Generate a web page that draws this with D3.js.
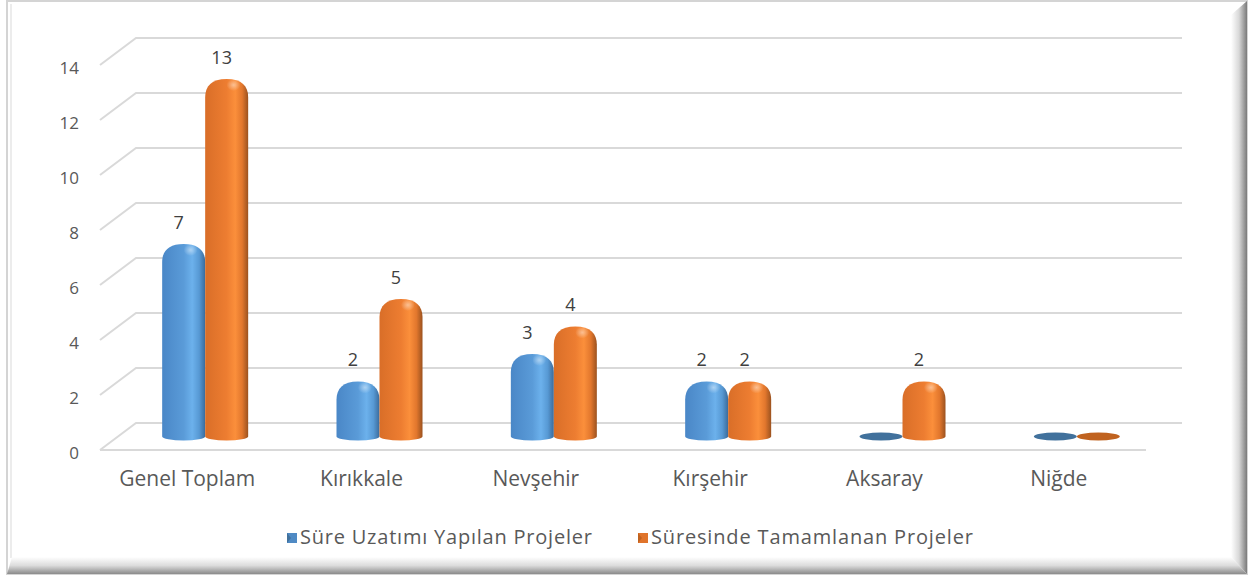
<!DOCTYPE html>
<html>
<head>
<meta charset="utf-8">
<script src="https://cdn.jsdelivr.net/npm/d3@7"></script>
<style>
  html, body { margin: 0; padding: 0; background: #fff; }
  svg { display: block; font-family: "Open Sans", sans-serif; }
</style>
</head>
<body>
<div id="chart"></div>
<script>
var categories = ['Genel Toplam', 'Kırıkkale', 'Nevşehir', 'Kırşehir', 'Aksaray', 'Niğde'];
var seriesNames = ['Süre Uzatımı Yapılan Projeler', 'Süresinde Tamamlanan Projeler'];
var extended = [7, 2, 3, 2, 0, 0];
var onTime = [13, 5, 4, 2, 2, 0];
var yTicks = [0, 2, 4, 6, 8, 10, 12, 14];

var w = 1249, h = 575;
var depthX = 36, depthY = 27;

var svg = d3.select('#chart').append('svg')
  .attr('width', w)
  .attr('height', h);

var defs = svg.append('defs');

// frame gradients
var gr = defs.append('linearGradient').attr('id', 'bevelR')
  .attr('x1', 0).attr('x2', 1).attr('y1', 0).attr('y2', 0);
gr.append('stop').attr('offset', 0).attr('stop-color', '#ffffff');
gr.append('stop').attr('offset', 0.5).attr('stop-color', '#d8d8d8');
gr.append('stop').attr('offset', 1).attr('stop-color', '#7a7a7a');
var gb = defs.append('linearGradient').attr('id', 'bevelB')
  .attr('x1', 0).attr('x2', 0).attr('y1', 0).attr('y2', 1);
gb.append('stop').attr('offset', 0).attr('stop-color', '#ffffff');
gb.append('stop').attr('offset', 0.5).attr('stop-color', '#dcdcdc');
gb.append('stop').attr('offset', 1).attr('stop-color', '#8a8a8a');

var palettes = [
  { id: 'gBlue', stops: [['0', '#4a87c7'], ['0.5', '#5a9bd8'], ['0.7', '#6cb1ec'], ['0.86', '#5799d4'], ['1', '#3b6b9b']], flat: '#41719c', leg: '#4f8ac4' },
  { id: 'gOrange', stops: [['0', '#d96e28'], ['0.5', '#ed7d31'], ['0.7', '#fb8f3b'], ['0.86', '#e2772d'], ['1', '#9b521f']], flat: '#c0621f', leg: '#e0742b' }
];
palettes.forEach(function(p) {
  var g = defs.append('linearGradient').attr('id', p.id)
    .attr('x1', 0).attr('x2', 1).attr('y1', 0).attr('y2', 0);
  p.stops.forEach(function(s) {
    g.append('stop').attr('offset', s[0]).attr('stop-color', s[1]);
  });
  var rg = defs.append('radialGradient').attr('id', p.id + 'Hi')
    .attr('cx', 0.5).attr('cy', 0.5).attr('r', 0.5);
  rg.append('stop').attr('offset', 0).attr('stop-color', '#ffffff').attr('stop-opacity', 0.45);
  rg.append('stop').attr('offset', 1).attr('stop-color', '#ffffff').attr('stop-opacity', 0);
});

// frame
svg.append('rect').attr('x', 7).attr('y', 1).attr('width', 1240).attr('height', 573)
  .attr('fill', '#fff').attr('stroke', '#d4d4d4').attr('stroke-width', 2);
svg.append('line').attr('x1', 11).attr('x2', 11).attr('y1', 4).attr('y2', 558)
  .attr('stroke', '#ececec').attr('stroke-width', 2);
svg.append('polygon').attr('points', '1231,15 1247,1 1247,574 1231,557').attr('fill', 'url(#bevelR)');
svg.append('polygon').attr('points', '12,557 1231,557 1247,574 7,574').attr('fill', 'url(#bevelB)');

// scales (back wall)
var y = d3.scaleLinear().domain([0, 14]).range([423, 38]);
var xFront = d3.scaleBand().domain(categories).range([100, 1146]);
var barW = 43;
var xSeries = d3.scaleBand().domain([0, 1]).range([-barW, barW]).padding(0);

// gridlines
var grid = svg.append('g').attr('stroke', '#d9d9d9').attr('stroke-width', 2).attr('fill', 'none');
yTicks.forEach(function(t) {
  grid.append('path')
    .attr('d', 'M' + (136 - depthX) + ',' + (y(t) + depthY) + 'L136,' + y(t) + 'L1182,' + y(t));
});
grid.append('line').attr('x1', 100).attr('x2', 1146)
  .attr('y1', y(0) + depthY).attr('y2', y(0) + depthY);

// y labels
svg.append('g').selectAll('text').data(yTicks).join('text')
  .attr('x', 79)
  .attr('y', function(d) { return y(d) + depthY + 4; })
  .attr('text-anchor', 'end')
  .attr('dominant-baseline', 'middle')
  .attr('font-size', 17)
  .attr('fill', '#595959')
  .text(function(d) { return d; });

// category labels
svg.append('g').selectAll('text').data(categories).join('text')
  .attr('x', function(d) { return xFront(d) + xFront.bandwidth() / 2; })
  .attr('y', 480)
  .attr('text-anchor', 'middle')
  .attr('dominant-baseline', 'middle')
  .attr('font-size', 21)
  .attr('fill', '#595959')
  .text(function(d) { return d; });

// bars: mid depth
var midY = depthY / 2;
function yb(v) { return y(v) + midY; }

function cylinder(x0, w, top, base) {
  var x1 = x0 + w, r = Math.min(18, (base - top) * 0.5), e = 4;
  return 'M' + x0 + ',' + base +
    'L' + x0 + ',' + (top + r) +
    'C' + x0 + ',' + (top + r * 0.4) + ' ' + (x0 + w * 0.15) + ',' + top + ' ' + (x0 + w * 0.5) + ',' + top +
    'C' + (x1 - w * 0.15) + ',' + top + ' ' + x1 + ',' + (top + r * 0.4) + ' ' + x1 + ',' + (top + r) +
    'L' + x1 + ',' + base +
    'A' + (w / 2) + ',' + e + ' 0 0 1 ' + x0 + ',' + base + 'Z';
}

var seriesData = [extended, onTime];
var bars = svg.append('g');
categories.forEach(function(c, ci) {
  var cx = xFront(c) + xFront.bandwidth() / 2 + depthX / 2;
  seriesData.forEach(function(vals, si) {
    var v = vals[ci];
    var x0 = cx + xSeries(si);
    var p = palettes[si];
    var base = yb(0);
    if (v === 0) {
      bars.append('ellipse')
        .attr('cx', x0 + barW / 2).attr('cy', base)
        .attr('rx', barW / 2).attr('ry', 4)
        .attr('fill', p.flat);
      return;
    }
    var top = yb(v);
    bars.append('path')
      .attr('d', cylinder(x0, barW, top, base))
      .attr('fill', 'url(#' + p.id + ')');
    bars.append('ellipse')
      .attr('cx', x0 + barW * 0.66).attr('cy', top + 6)
      .attr('rx', 7).attr('ry', 6)
      .attr('fill', 'url(#' + p.id + 'Hi)');
    svg.append('text')
      .attr('x', x0 + barW / 2 - 5)
      .attr('y', top - 20)
      .attr('text-anchor', 'middle')
      .attr('dominant-baseline', 'middle')
      .attr('font-size', 18)
      .attr('fill', '#404040')
      .text(v);
  });
});

// legend
var legX = [287, 638];
var legLen = [292, 322];
var leg = svg.append('g');
seriesNames.forEach(function(n, i) {
  var p = palettes[i];
  leg.append('rect').attr('x', legX[i]).attr('y', 533).attr('width', 10).attr('height', 10)
    .attr('fill', p.leg);
  leg.append('polygon')
    .attr('points', [legX[i], 533, legX[i] + 4, 538, legX[i], 543].join(','))
    .attr('fill', p.flat);
  leg.append('text')
    .attr('x', legX[i] + 13).attr('y', 539)
    .attr('dominant-baseline', 'middle')
    .attr('font-size', 20)
    .attr('textLength', legLen[i])
    .attr('lengthAdjust', 'spacing')
    .attr('fill', '#595959')
    .text(n);
});
</script>
</body>
</html>
